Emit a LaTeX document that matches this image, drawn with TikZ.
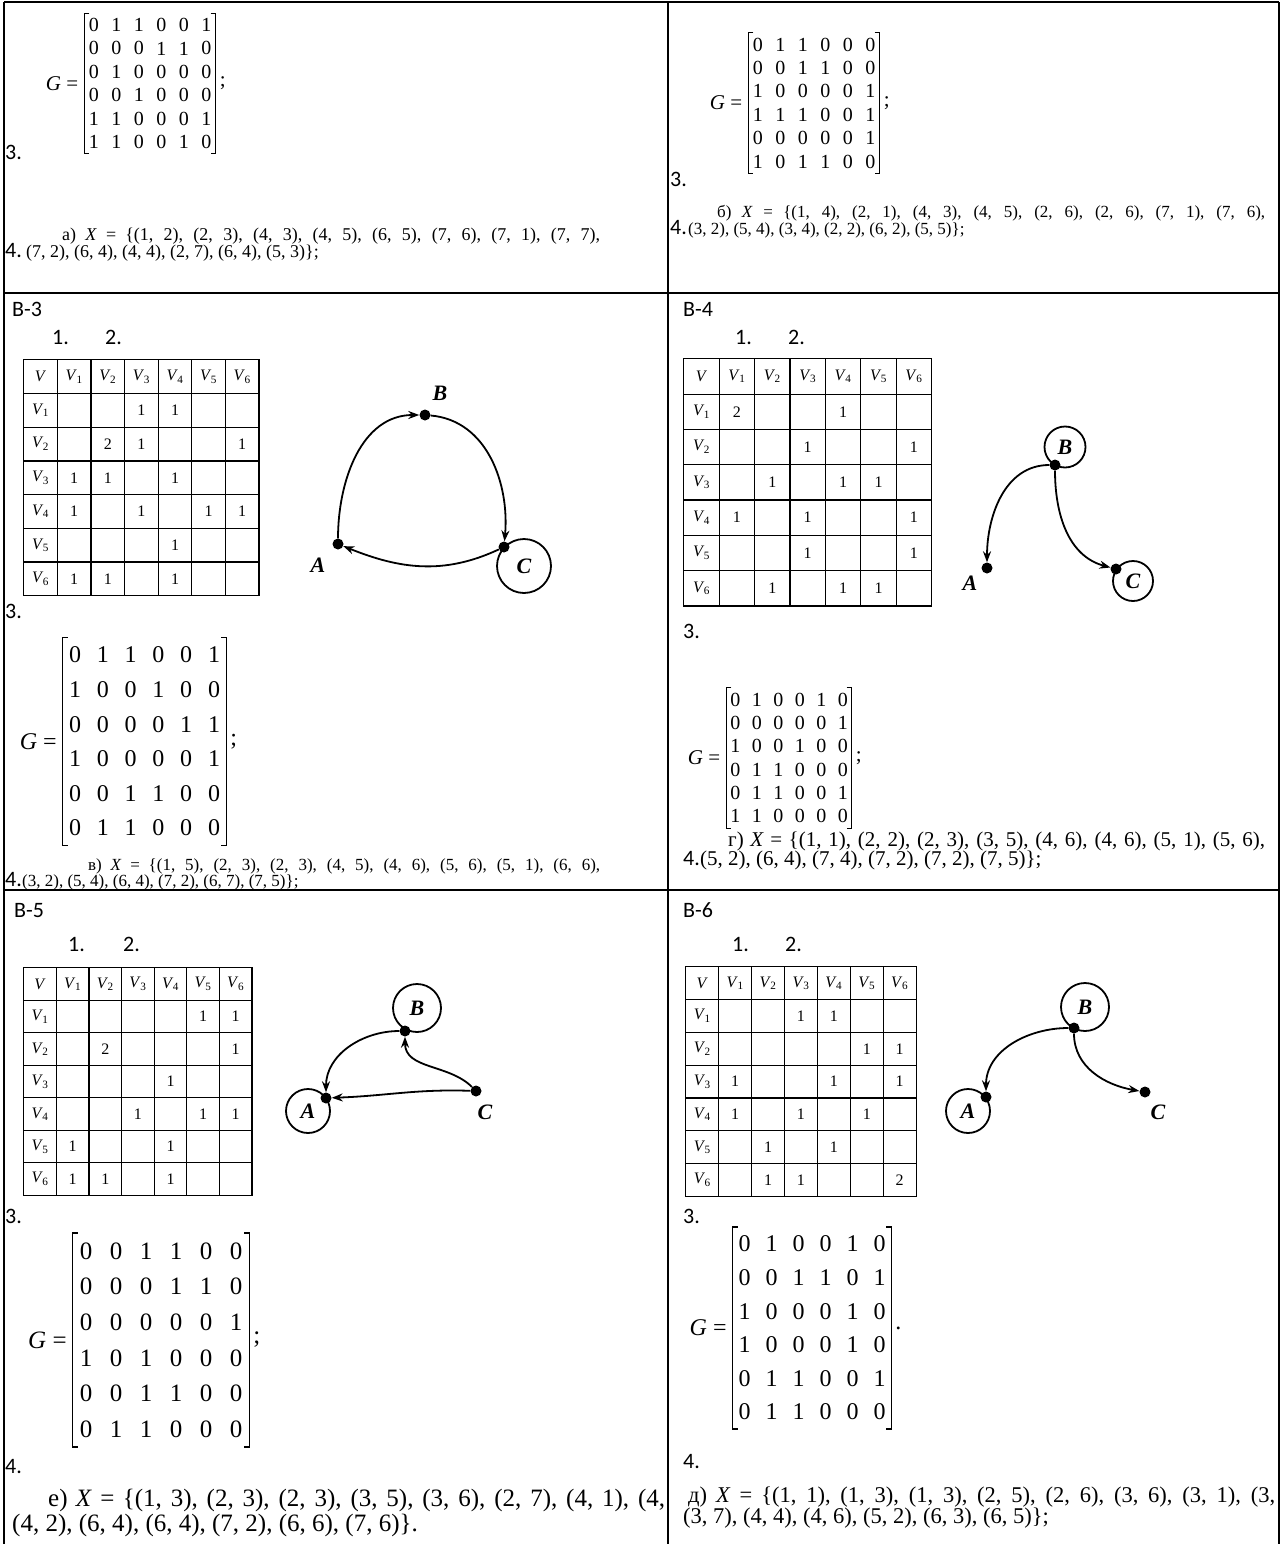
\documentclass[tikz,border=0pt]{standalone}
\usepackage{fontspec}
\setmainfont{Liberation Serif}
\newfontfamily\lblfont{Carlito}
\usetikzlibrary{matrix,positioning,arrows.meta}

\newcommand\fs[1]{\fontsize{#1}{#1}\selectfont}
\newcommand\Vi[1]{\textit{V}\kern-.5pt\textsubscript{#1}}
\newcommand\brackets[1]{%
  \draw[brk] ([xshift=5pt]#1.north west) -- (#1.north west) -- (#1.south west) -- ([xshift=5pt]#1.south west);
  \draw[brk] ([xshift=-5pt]#1.north east) -- (#1.north east) -- (#1.south east) -- ([xshift=-5pt]#1.south east);}

\begin{document}
\begin{tikzpicture}[x=1pt, y=1pt,
    frame/.style={line width=1.8pt},
    lbl/.style={anchor=base west, inner sep=0pt, font=\lblfont\fs{22}},
    xline/.style={anchor=base west, inner sep=0pt, font=\fs{#1}},
    gmat/.style n args={3}{matrix of nodes, inner xsep=-2pt, inner ysep=0pt,
      nodes={anchor=center, minimum width=#2, minimum height=#3, inner sep=0pt, font=\fs{#1}}},
    geq/.style={inner sep=0pt, font=\fs{#1}},
    brk/.style={line width=1.1pt},
    vtab/.style n args={2}{matrix of nodes, nodes in empty cells, inner sep=0pt,
      column sep=-1.2pt, row sep=-1.2pt, anchor=north west,
      nodes={draw, anchor=center, line width=1.2pt, minimum width=#1, minimum height=#2, inner sep=0pt, font=\fs{16}}},
    vdot/.style={circle, fill, inner sep=0pt, minimum size=11pt},
    vloop/.style={circle, draw, line width=1.8pt, inner sep=0pt, minimum size=#1, font=\bfseries\itshape\fs{22}},
    vname/.style={inner sep=0pt, font=\bfseries\itshape\fs{22}},
    arc/.style={line width=1.8pt, -{Stealth[length=11pt,width=8pt]}}]

\useasboundingbox (0,0) rectangle (1281,-1544);

% Frame of the sheet
\draw[frame] (4,-2) -- (1279,-2);
\draw[frame] (4,-2) -- (4,-1544);
\draw[frame] (668,-2) -- (668,-1544);
\draw[frame] (1279,-2) -- (1279,-1544);
\draw[frame] (4,-293) -- (1279,-293);
\draw[frame] (4,-890) -- (1279,-890);

% ---------- top left
\matrix (m1) [gmat={20}{22.5pt}{23.4pt}] at (150,-83.5) {
  0 & 1 & 1 & 0 & 0 & 1 \\
  0 & 0 & 0 & 1 & 1 & 0 \\
  0 & 1 & 0 & 0 & 0 & 0 \\
  0 & 0 & 1 & 0 & 0 & 0 \\
  1 & 1 & 0 & 0 & 0 & 1 \\
  1 & 1 & 0 & 0 & 1 & 0 \\
};
\brackets{m1}
\node[geq=21, left=6pt of m1] (g1) {\textit{G} =};
\node[geq=21, right=4pt of m1] (s1) {;};
\node[lbl] (n13) at (5,-160) {3.};
\node[xline=18] (x1a) at (62,-240) {\makebox[538pt][s]{а) \textit{X} = \{(1, 2), (2, 3), (4, 3), (4, 5), (6, 5), (7, 6), (7, 1), (7, 7),}};
\node[lbl] (n14) at (5,-257) {4.};
\node[xline=18] (x1b) at (26,-257) {(7, 2), (6, 4), (4, 4), (2, 7), (6, 4), (5, 3)\};};

% ---------- top right
\matrix (m2) [gmat={20}{22.5pt}{23.4pt}] at (814,-103) {
  0 & 1 & 1 & 0 & 0 & 0 \\
  0 & 0 & 1 & 1 & 0 & 0 \\
  1 & 0 & 0 & 0 & 0 & 1 \\
  1 & 1 & 1 & 0 & 0 & 1 \\
  0 & 0 & 0 & 0 & 0 & 1 \\
  1 & 0 & 1 & 1 & 0 & 0 \\
};
\brackets{m2}
\node[geq=21, left=6pt of m2] (g2) {\textit{G} =};
\node[geq=21, right=4pt of m2] (s2) {;};
\node[lbl] (n23) at (670,-186) {3.};
\node[xline=17] (x2a) at (717,-217) {\makebox[548pt][s]{б) \textit{X} = \{(1, 4), (2, 1), (4, 3), (4, 5), (2, 6), (2, 6), (7, 1), (7, 6),}};
\node[lbl] (n24) at (670,-234) {4.};
\node[xline=17] (x2b) at (688,-234) {(3, 2), (5, 4), (3, 4), (2, 2), (6, 2), (5, 5)\};};

% ---------- B-3
\node[lbl] (v3) at (12,-316) {B-3};
\node[lbl] (q31) at (52,-344) {1.};
\node[lbl] (q32) at (105,-344) {2.};
\matrix (t3) [vtab={33.6pt}{33.7pt}] at (23,-359) {
  \textit{V} & \Vi1 & \Vi2 & \Vi3 & \Vi4 & \Vi5 & \Vi6 \\
  \Vi1 &   &   & 1 & 1 &   &   \\
  \Vi2 &   & 2 & 1 &   &   & 1 \\
  \Vi3 & 1 & 1 &   & 1 &   &   \\
  \Vi4 & 1 &   & 1 &   & 1 & 1 \\
  \Vi5 &   &   &   & 1 &   &   \\
  \Vi6 & 1 & 1 &   & 1 &   &   \\
};
\node[vloop=54pt] (lc3) at (524,-566) {C};
\node[vdot] (a3) at (338,-544) {};
\node[vdot] (b3) at (425,-415) {};
\node[vdot] (c3) at (504,-547) {};
\node[vname] (na3) at (318,-565) {A};
\node[vname] (nb3) at (440,-393) {B};
\draw[arc] (a3) to[out=90, in=180] (b3);
\draw[arc] (b3) to[out=-5, in=85] (c3);
\draw[arc] (c3) to[out=205, in=-22] (a3);
\node[lbl] (n33) at (5,-618) {3.};
\matrix (m3) [gmat={24}{27.8pt}{34.6pt}] at (144.5,-741.5) {
  0 & 1 & 1 & 0 & 0 & 1 \\
  1 & 0 & 0 & 1 & 0 & 0 \\
  0 & 0 & 0 & 0 & 1 & 1 \\
  1 & 0 & 0 & 0 & 0 & 1 \\
  0 & 0 & 1 & 1 & 0 & 0 \\
  0 & 1 & 1 & 0 & 0 & 0 \\
};
\brackets{m3}
\node[geq=24, left=6pt of m3] (g3) {\textit{G} =};
\node[geq=24, right=4pt of m3] (s3) {;};
\node[xline=17] (x3a) at (88,-870) {\makebox[512pt][s]{в) \textit{X} = \{(1, 5), (2, 3), (2, 3), (4, 5), (4, 6), (5, 6), (5, 1), (6, 6),}};
\node[lbl] (n34) at (5,-886) {4.};
\node[xline=17] (x3b) at (22,-886) {(3, 2), (5, 4), (6, 4), (7, 2), (6, 7), (7, 5)\};};

% ---------- B-4
\node[lbl] (v4) at (683,-316) {B-4};
\node[lbl] (q41) at (735,-344) {1.};
\node[lbl] (q42) at (788,-344) {2.};
\matrix (t4) [vtab={35.4pt}{35.3pt}] at (683,-358) {
  \textit{V} & \Vi1 & \Vi2 & \Vi3 & \Vi4 & \Vi5 & \Vi6 \\
  \Vi1 & 2 &   &   & 1 &   &   \\
  \Vi2 &   &   & 1 &   &   & 1 \\
  \Vi3 &   & 1 &   & 1 & 1 &   \\
  \Vi4 & 1 &   & 1 &   &   & 1 \\
  \Vi5 &   &   & 1 &   &   & 1 \\
  \Vi6 &   & 1 &   & 1 & 1 &   \\
};
\node[vloop=41pt] (lb4) at (1065,-447) {B};
\node[vloop=40pt] (lc4) at (1133,-581) {C};
\node[vdot] (b4) at (1055,-465) {};
\node[vdot] (a4) at (987,-568) {};
\node[vdot] (c4) at (1116,-569) {};
\node[vname] (na4) at (970,-583) {A};
\draw[arc] (b4) to[out=180, in=90] (a4);
\draw[arc] (b4) to[out=-90, in=165] (c4);
\node[lbl] (n43) at (683,-638) {3.};
\matrix (m4) [gmat={20}{21.5pt}{23.3pt}] at (789,-758) {
  0 & 1 & 0 & 0 & 1 & 0 \\
  0 & 0 & 0 & 0 & 0 & 1 \\
  1 & 0 & 0 & 1 & 0 & 0 \\
  0 & 1 & 1 & 0 & 0 & 0 \\
  0 & 1 & 1 & 0 & 0 & 1 \\
  1 & 1 & 0 & 0 & 0 & 0 \\
};
\brackets{m4}
\node[geq=21, left=6pt of m4] (g4) {\textit{G} =};
\node[geq=21, right=4pt of m4] (s4) {;};
\node[xline=21] (x4a) at (728,-846) {\makebox[537pt][s]{г) \textit{X} = \{(1, 1), (2, 2), (2, 3), (3, 5), (4, 6), (4, 6), (5, 1), (5, 6),}};
\node[lbl] (n44) at (683,-865) {4.};
\node[xline=21] (x4b) at (700,-865) {(5, 2), (6, 4), (7, 4), (7, 2), (7, 2), (7, 5)\};};

% ---------- B-5
\node[lbl] (v5) at (14,-917) {B-5};
\node[lbl] (q51) at (68,-951) {1.};
\node[lbl] (q52) at (123,-951) {2.};
\matrix (t5) [vtab={32.6pt}{32.5pt}] at (23,-967) {
  \textit{V} & \Vi1 & \Vi2 & \Vi3 & \Vi4 & \Vi5 & \Vi6 \\
  \Vi1 &   &   &   &   & 1 & 1 \\
  \Vi2 &   & 2 &   &   &   & 1 \\
  \Vi3 &   &   &   & 1 &   &   \\
  \Vi4 &   &   & 1 &   & 1 & 1 \\
  \Vi5 & 1 &   &   & 1 &   &   \\
  \Vi6 & 1 & 1 &   & 1 &   &   \\
};
\node[vloop=48pt] (lb5) at (417,-1008) {B};
\node[vloop=44pt] (la5) at (308,-1111) {A};
\node[vdot] (b5) at (405,-1031) {};
\node[vdot] (a5) at (326,-1098) {};
\node[vdot] (c5) at (476,-1091) {};
\node[vname] (nc5) at (485,-1112) {C};
\draw[arc] (b5) to[out=180, in=90] (a5);
\draw[arc] (c5) to[out=135, in=-90] (b5);
\draw[arc] (c5) to[out=178, in=2] (a5);
\node[lbl] (n53) at (5,-1223) {3.};
\matrix (m5) [gmat={25}{30pt}{35.6pt}] at (161,-1340) {
  0 & 0 & 1 & 1 & 0 & 0 \\
  0 & 0 & 0 & 1 & 1 & 0 \\
  0 & 0 & 0 & 0 & 0 & 1 \\
  1 & 0 & 1 & 0 & 0 & 0 \\
  0 & 0 & 1 & 1 & 0 & 0 \\
  0 & 1 & 1 & 0 & 0 & 0 \\
};
\brackets{m5}
\node[geq=25, left=6pt of m5] (g5) {\textit{G} =};
\node[geq=25, right=4pt of m5] (s5) {;};
\node[lbl] (n54) at (5,-1473) {4.};
\node[xline=25] (x5a) at (48,-1506) {\makebox[617pt][s]{е) \textit{X} = \{(1, 3), (2, 3), (2, 3), (3, 5), (3, 6), (2, 7), (4, 1), (4,}};
\node[xline=25] (x5b) at (12,-1531) {(4, 2), (6, 4), (6, 4), (7, 2), (6, 6), (7, 6)\}.};

% ---------- B-6
\node[lbl] (v6) at (683,-917) {B-6};
\node[lbl] (q61) at (732,-951) {1.};
\node[lbl] (q62) at (785,-951) {2.};
\matrix (t6) [vtab={32.9pt}{32.8pt}] at (685,-966) {
  \textit{V} & \Vi1 & \Vi2 & \Vi3 & \Vi4 & \Vi5 & \Vi6 \\
  \Vi1 &   &   & 1 & 1 &   &   \\
  \Vi2 &   &   &   &   & 1 & 1 \\
  \Vi3 & 1 &   &   & 1 &   & 1 \\
  \Vi4 & 1 &   & 1 &   & 1 &   \\
  \Vi5 &   & 1 &   & 1 &   &   \\
  \Vi6 &   & 1 & 1 &   &   & 2 \\
};
\node[vloop=48pt] (lb6) at (1085,-1007) {B};
\node[vloop=44pt] (la6) at (968,-1111) {A};
\node[vdot] (b6) at (1074,-1028) {};
\node[vdot] (a6) at (986,-1097) {};
\node[vdot] (c6) at (1145,-1092) {};
\node[vname] (nc6) at (1158,-1112) {C};
\draw[arc] (b6) to[out=180, in=90] (a6);
\draw[arc] (b6) to[out=-90, in=170] (c6);
\node[lbl] (n63) at (683,-1223) {3.};
\matrix (m6) [gmat={24}{27pt}{33.6pt}] at (812,-1328) {
  0 & 1 & 0 & 0 & 1 & 0 \\
  0 & 0 & 1 & 1 & 0 & 1 \\
  1 & 0 & 0 & 0 & 1 & 0 \\
  1 & 0 & 0 & 0 & 1 & 0 \\
  0 & 1 & 1 & 0 & 0 & 1 \\
  0 & 1 & 1 & 0 & 0 & 0 \\
};
\brackets{m6}
\node[geq=24, left=6pt of m6] (g6) {\textit{G} =};
\node[geq=24, right=4pt of m6] (s6) {.};
\node[lbl] (n64) at (683,-1468) {4.};
\node[xline=22.5] (x6a) at (688,-1502) {\makebox[587pt][s]{д) \textit{X} = \{(1, 1), (1, 3), (1, 3), (2, 5), (2, 6), (3, 6), (3, 1), (3,}};
\node[xline=22.5] (x6b) at (683,-1523) {(3, 7), (4, 4), (4, 6), (5, 2), (6, 3), (6, 5)\};};

\end{tikzpicture}
\end{document}
